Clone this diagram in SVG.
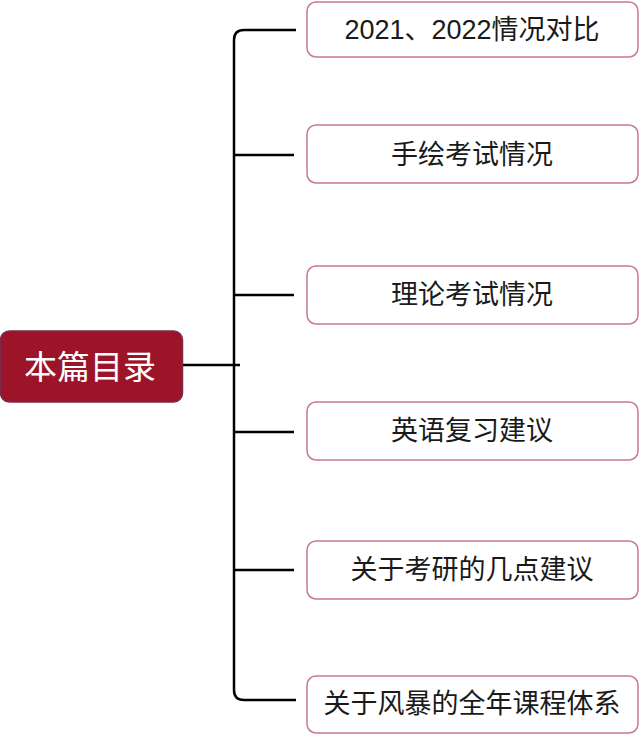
<svg xmlns="http://www.w3.org/2000/svg" width="640" height="735" viewBox="0 0 640 735">
<style>
.child rect{fill:#ffffff;stroke:#c9798a;stroke-width:1.5}
.child text{font-family:"Liberation Sans","Noto Sans CJK SC",sans-serif;font-size:27px;fill:#1a1a1a;text-anchor:middle;dominant-baseline:central}
.conn{fill:none;stroke:#000;stroke-width:2.5}
</style>
<rect width="640" height="735" fill="#ffffff"/>
<g id="connectors">
<path class="conn" d="M182,365 H240"/>
<path class="conn" d="M296,30 H244 Q234,30 234,40 V690 Q234,700 244,700 H296"/>
<path class="conn" d="M234,155 H294"/>
<path class="conn" d="M234,295 H294"/>
<path class="conn" d="M234,432 H294"/>
<path class="conn" d="M234,570 H294"/>
</g>
<g id="root">
<rect x="0.5" y="331" width="182" height="71" rx="9" fill="#9b1428" stroke="#7a2a4a" stroke-width="1.5"/>
<text x="90" y="367" font-family="'Liberation Sans','Noto Sans CJK SC',sans-serif" font-size="33" fill="#ffffff" text-anchor="middle" dominant-baseline="central">本篇目录</text>
</g>
<g id="n1" class="child"><rect x="307" y="2" width="331" height="55" rx="9"/><text x="472" y="30">2021、2022情况对比</text></g>
<g id="n2" class="child"><rect x="307" y="125" width="331" height="58" rx="9"/><text x="472" y="155">手绘考试情况</text></g>
<g id="n3" class="child"><rect x="307" y="266" width="331" height="58" rx="9"/><text x="472" y="295">理论考试情况</text></g>
<g id="n4" class="child"><rect x="307" y="402" width="331" height="58" rx="9"/><text x="472" y="431">英语复习建议</text></g>
<g id="n5" class="child"><rect x="307" y="541" width="331" height="58" rx="9"/><text x="472" y="570">关于考研的几点建议</text></g>
<g id="n6" class="child"><rect x="307" y="676" width="331" height="57" rx="9"/><text x="472" y="704">关于风暴的全年课程体系</text></g>
</svg>
